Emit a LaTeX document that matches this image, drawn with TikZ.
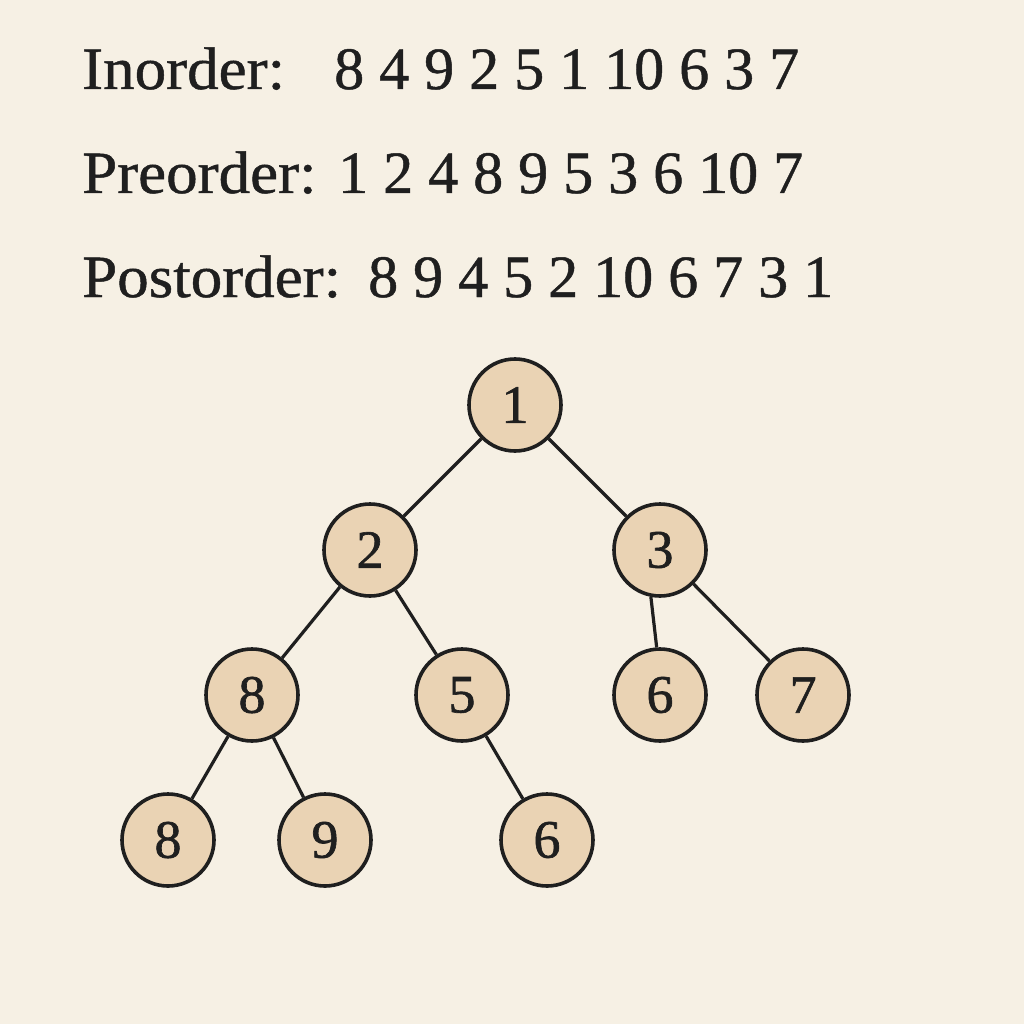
\documentclass[tikz,border=0pt]{standalone}
\usepackage{fontspec}
\setmainfont{Liberation Serif}
\newfontfamily\labelfont[FakeStretch=1.05,FakeBold=0.8]{Liberation Serif}
\newfontfamily\numfont[FakeBold=0.8]{Liberation Serif}
\newfontfamily\digitfont[FakeBold=1.2]{Liberation Serif}
\definecolor{bgc}{HTML}{F6F0E4}
\definecolor{nodefill}{HTML}{EAD3B4}
\definecolor{ink}{HTML}{1F1F1F}
\begin{document}
\begin{tikzpicture}[x=1pt,y=-1pt,
  treenode/.style={circle,draw=ink,fill=nodefill,line width=3.6pt,minimum size=92pt,inner sep=0pt,text=ink,font=\digitfont\fontsize{54}{54}\selectfont},
  heading/.style={anchor=base west,inner sep=0pt,text=ink,font=\labelfont\fontsize{60}{60}\selectfont},
  numbers/.style={anchor=base west,inner sep=0pt,text=ink,font=\numfont\fontsize{60}{60}\selectfont},
  edge/.style={draw=ink,line width=3.2pt}]
\fill[bgc] (0,0) rectangle (1024,1024);
\useasboundingbox (0,0) rectangle (1024,1024);
% traversal lines
\node[heading] (inl) at (82,89) {Inorder:};
\node[numbers] (inn) at (334,89) {8 4 9 2 5 1 10 6 3 7};
\node[heading] (prl) at (82,193) {Preorder:};
\node[numbers] (prn) at (338,193) {1 2 4 8 9 5 3 6 10 7};
\node[heading] (pol) at (82,297) {Postorder:};
\node[numbers] (pon) at (368,297) {8 9 4 5 2 10 6 7 3 1};
% tree
\node[treenode] (n1) at (515,405) {1};
\node[treenode] (n2) at (370,550) {2};
\node[treenode] (n3) at (660,550) {3};
\node[treenode] (n8) at (252,695) {8};
\node[treenode] (n5) at (462,695) {5};
\node[treenode] (n6) at (660,695) {6};
\node[treenode] (n7) at (803,695) {7};
\node[treenode] (m8) at (168,840) {8};
\node[treenode] (m9) at (325,840) {9};
\node[treenode] (m6) at (547,840) {6};
\draw[edge] (n1) -- (n2);
\draw[edge] (n1) -- (n3);
\draw[edge] (n2) -- (n8);
\draw[edge] (n2) -- (n5);
\draw[edge] (n3.-101) -- (n6.94);
\draw[edge] (n3) -- (n7);
\draw[edge] (n8) -- (m8);
\draw[edge] (n8) -- (m9);
\draw[edge] (n5) -- (m6);
\end{tikzpicture}
\end{document}
